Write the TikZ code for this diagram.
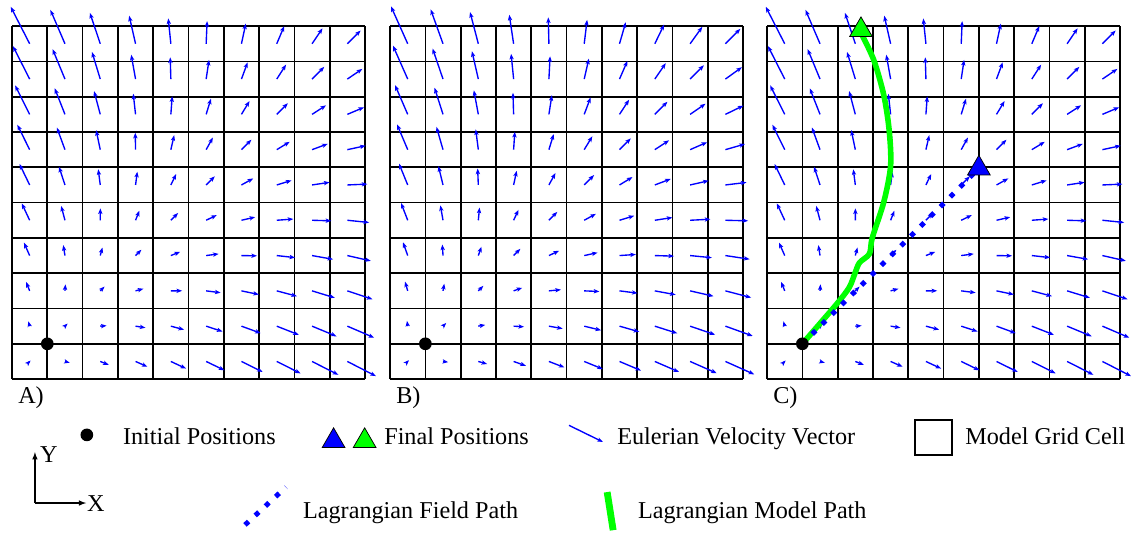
\documentclass[tikz,border=0pt]{standalone}
\usepackage{fontspec}
\setmainfont{Liberation Serif}
\usetikzlibrary{shapes.geometric, arrows.meta}

\begin{document}
\begin{tikzpicture}[>={Stealth[length=4.5pt, width=3.4pt, inset=1pt]}]
    % Define colours
    \definecolor{vectorBlue}{HTML}{0000FF}
    \definecolor{pathGreen}{HTML}{00FF00}

    \tikzset{
        gridLine/.style={black, line width=1.35pt},
        velVector/.style={vectorBlue, line width=1.1pt, ->},
        initDot/.style={circle, fill=black, inner sep=0pt, minimum size=0.36cm},
        finalMark/.style={regular polygon, regular polygon sides=3, draw=black, line width=0.6pt, inner sep=0pt, minimum size=0.74cm},
        fieldPath/.style={vectorBlue, line width=4pt, dash pattern=on 4pt off 7.2pt},
        modelPath/.style={pathGreen, line width=4.5pt, line cap=round, line join=round},
        labelText/.style={font=\fontsize{19.5}{23}\selectfont, inner sep=0pt, anchor=base west}
    }

    \useasboundingbox (0,0) rectangle (32.04,15.10);

    % Draw the three panels: grid, velocity vectors and label
    \foreach \panelName/\panelX/\fieldA/\fieldC in {A/0.34/0.55/0, B/11.05/0.5/0.15, C/21.73/0.55/0} {
        \begin{scope}[shift={(\panelX,4.36)}]
            \draw[gridLine] (0,0) grid (10,10);
            \foreach \i in {0,...,9}
                \foreach \j in {0,...,9} {
                    \pgfmathsetmacro{\cx}{\i+0.5}
                    \pgfmathsetmacro{\cy}{\j+0.5}
                    \pgfmathsetmacro{\velScale}{0.115*(1-0.025*\cx)}
                    \pgfmathsetmacro{\velU}{\velScale*(\cx+\fieldC-\fieldA*(\cy+\fieldC))}
                    \pgfmathsetmacro{\velV}{\velScale*(\cy+\fieldC-\fieldA*(\cx+\fieldC))}
                    \draw[velVector] (\cx,\cy) -- ++(\velU,\velV);
                }
            \node[labelText] (label\panelName) at (0.17,-0.68) {\panelName)};
        \end{scope}
    }

    % Paths in panel C
    \begin{scope}[shift={(21.73,4.36)}]
        \coordinate (startC) at (1,1);
        \coordinate (endField) at (6,5.97);
        \coordinate (endModel) at (2.66,9.89);

        \draw[modelPath] plot[smooth, tension=0.5] coordinates {(startC) (1.52,1.6) (2.0,2.16) (2.33,2.6) (2.49,3.0) (2.62,3.3) (2.9,3.55) (2.98,4.0) (3.31,5.03) (3.50,6.04) (3.46,7.04) (3.31,8.03) (3.03,9.02) (2.70,9.73)};
        \draw[fieldPath] (startC) -- (endField);

        \node[finalMark, fill=vectorBlue] (finalBlue) at (endField) {};
        \node[finalMark, fill=pathGreen] (finalGreen) at (endModel) {};
    \end{scope}

    % Initial positions
    \foreach \panelName/\panelX in {A/0.34, B/11.05, C/21.73}
        \node[initDot] (init\panelName) at (\panelX+1,5.36) {};

    % Legend: axes
    \coordinate (axisOrigin) at (0.99,0.85);
    \coordinate (axisYEnd) at (0.99,2.29);
    \coordinate (axisXEnd) at (2.44,0.85);
    \draw[line width=1pt,-latex] (axisOrigin) -- (axisYEnd);
    \draw[line width=1pt,-latex] (axisOrigin) -- (axisXEnd);
    \node[labelText] (axisYLabel) at (1.13,2.01) {Y};
    \node[labelText] (axisXLabel) at (2.46,0.62) {X};

    % Legend: first row
    \node[initDot] (legendDot) at (2.46,2.78) {};
    \node[labelText] (legendInit) at (3.48,2.50) {Initial Positions};

    \node[finalMark, fill=vectorBlue] (legendBlue) at (9.45,2.61) {};
    \node[finalMark, fill=pathGreen] (legendGreen) at (10.33,2.61) {};
    \node[labelText] (legendFinal) at (10.88,2.50) {Final Positions};

    \coordinate (vecStart) at (16.12,3.05);
    \coordinate (vecEnd) at (17.08,2.58);
    \draw[velVector] (vecStart) -- (vecEnd);
    \node[labelText] (legendVector) at (17.48,2.50) {Eulerian Velocity Vector};

    \draw[gridLine] (25.92,2.21) rectangle (26.97,3.20);
    \node[labelText] (legendCell) at (27.34,2.50) {Model Grid Cell};

    % Legend: second row
    \coordinate (fieldStart) at (6.94,0.23);
    \coordinate (fieldEnd) at (8.10,1.30);
    \draw[fieldPath] (fieldStart) -- (fieldEnd);
    \node[labelText] (legendField) at (8.58,0.42) {Lagrangian Field Path};

    \coordinate (modelStart) at (17.20,1.16);
    \coordinate (modelEnd) at (17.37,0.08);
    \draw[modelPath, line width=5.5pt, line cap=butt] (modelStart) -- (modelEnd);
    \node[labelText] (legendModel) at (18.07,0.42) {Lagrangian Model Path};

\end{tikzpicture}
\end{document}
